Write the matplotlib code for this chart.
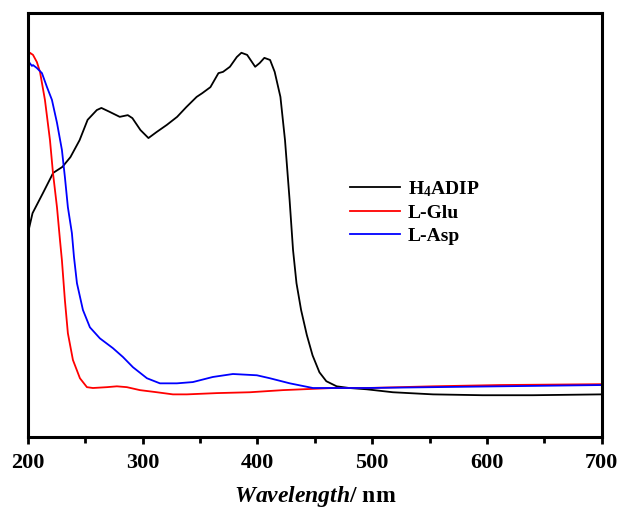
import matplotlib
matplotlib.use("Agg")
import matplotlib.pyplot as plt
import numpy as np

plt.rcParams['font.family'] = ['Liberation Serif', 'DejaVu Serif']
plt.rcParams['mathtext.fontset'] = 'custom'
plt.rcParams['mathtext.rm'] = 'Liberation Serif:bold'
plt.rcParams['mathtext.bf'] = 'Liberation Serif:bold'
plt.rcParams['mathtext.it'] = 'Liberation Serif:bold:italic'
plt.rcParams['mathtext.bfit'] = 'Liberation Serif:bold:italic'

# H4ADIP
wl_h4adip = [200, 204, 213, 222, 230, 237, 245, 252, 260, 264, 271, 280, 287, 291,
             298, 305, 312, 321, 330, 338, 347, 352, 359, 366, 370, 376, 382, 386,
             391, 398, 402, 406, 411, 415, 420, 424, 428, 431, 434, 438, 443, 448,
             454, 460, 469, 480, 495, 518, 553, 596, 640, 700]
abs_h4adip = [0.481, 0.528, 0.575, 0.623, 0.637, 0.660, 0.700, 0.748, 0.771, 0.776,
              0.767, 0.755, 0.759, 0.752, 0.724, 0.705, 0.719, 0.736, 0.755, 0.778,
              0.802, 0.811, 0.825, 0.858, 0.861, 0.873, 0.896, 0.906, 0.901, 0.873,
              0.882, 0.894, 0.889, 0.861, 0.802, 0.700, 0.559, 0.441, 0.363, 0.300,
              0.241, 0.193, 0.153, 0.132, 0.120, 0.116, 0.113, 0.106, 0.101, 0.099,
              0.099, 0.101]

# L-Glu
wl_glu = [200, 201.7, 204.4, 207.8, 210.5, 214.8, 219.2, 221.8, 225.3, 227.9, 229.6,
          232.2, 234.8, 239.2, 245.3, 251.4, 256.6, 268.8, 277.5, 286.2, 297.6, 312.4,
          326.3, 338.5, 364.6, 393.4, 422.1, 465.7, 495.3, 552.8, 611.1, 700]
abs_glu = [0.894, 0.906, 0.901, 0.884, 0.861, 0.795, 0.700, 0.623, 0.542, 0.465, 0.417,
           0.323, 0.245, 0.182, 0.139, 0.118, 0.116, 0.118, 0.120, 0.118, 0.111, 0.106,
           0.101, 0.101, 0.104, 0.106, 0.111, 0.116, 0.116, 0.120, 0.123, 0.125]

# L-Asp
wl_asp = [200, 200.9, 203.5, 204.4, 207.8, 212.2, 216.6, 220.9, 225.3, 229.6, 232.2,
          234.8, 238.3, 240.1, 242.7, 247.9, 254.0, 262.7, 274.0, 282.8, 291.5, 303.7,
          315.0, 329.8, 343.7, 361.1, 378.6, 399.5, 410.8, 428.2, 448.3, 495.3, 552.8,
          611.1, 700]
abs_asp = [0.894, 0.884, 0.875, 0.877, 0.870, 0.858, 0.825, 0.795, 0.741, 0.677, 0.613,
           0.542, 0.481, 0.425, 0.363, 0.300, 0.259, 0.233, 0.210, 0.189, 0.165, 0.139,
           0.127, 0.127, 0.130, 0.142, 0.149, 0.146, 0.139, 0.127, 0.116, 0.116, 0.118,
           0.120, 0.123]

fig = plt.figure(figsize=(6.21, 5.15), dpi=100)
ax = fig.add_axes([0.045, 0.151, 0.924, 0.824])

ax.plot(wl_h4adip, abs_h4adip, color='black', lw=1.3, label=r'H$_\mathbf{4}$ADIP')
ax.plot(wl_glu, abs_glu, color='#ff0000', lw=1.3, label='L-Glu')
ax.plot(wl_asp, abs_asp, color='#0000ff', lw=1.3, label='L-Asp')

ax.set_xlim(200, 700)
ax.set_ylim(0, 1)
ax.set_xticks([200, 300, 400, 500, 600, 700])
ax.set_xticks(np.arange(250, 700, 100), minor=True)
ax.set_yticks([])
ax.tick_params(axis='x', which='major', direction='out', length=5, width=2,
               labelsize=16, pad=6)
ax.tick_params(axis='x', which='minor', direction='out', length=4, width=2)
for lbl in ax.get_xticklabels():
    lbl.set_fontweight('bold')
for sp in ax.spines.values():
    sp.set_linewidth(2.2)

ax.set_xlabel(r'$\mathbfit{Wavelength}$/ nm', fontsize=17, fontweight='bold', labelpad=8)

ax.legend(loc='upper left', bbox_to_anchor=(0.53, 0.65), frameon=False,
          prop={'weight': 'bold', 'size': 14}, handlelength=2.6, handletextpad=0.4,
          labelspacing=0.28)

fig.savefig('out.png', dpi=100)
